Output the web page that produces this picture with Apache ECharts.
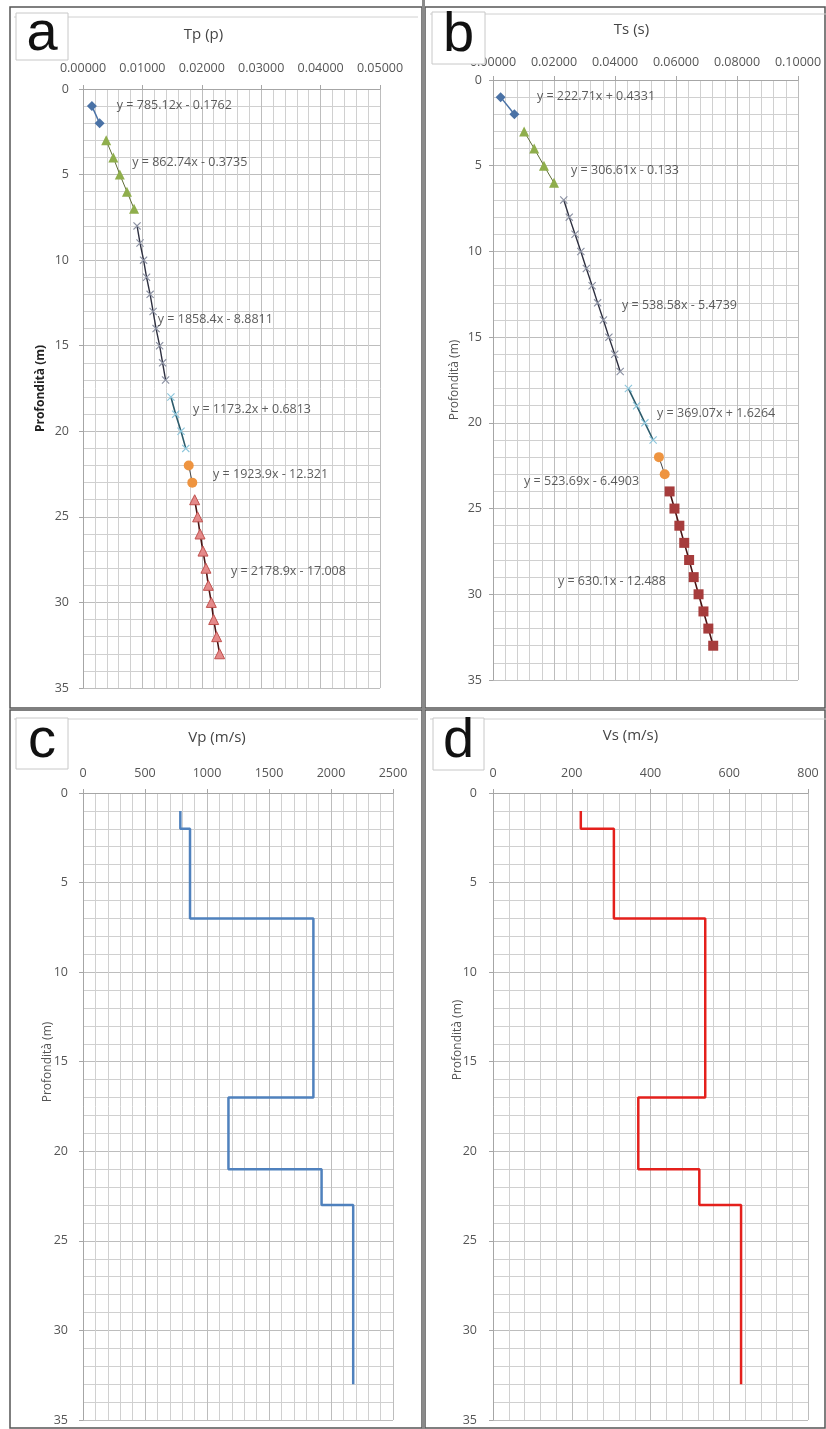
<!DOCTYPE html>
<html>
<head>
<meta charset="utf-8">
<script src="https://cdn.jsdelivr.net/npm/echarts@6/dist/echarts.min.js"></script>
<style>
  html, body { margin: 0; padding: 0; background: #fff; }
  #chart { width: 826px; height: 1429px; }
</style>
</head>
<body>
<div id="chart"></div>
<script>
// depths (m) of each fitted segment
const dep1 = [1, 2];
const dep2p = [3, 4, 5, 6, 7];
const dep2s = [3, 4, 5, 6];
const dep3p = [8, 9, 10, 11, 12, 13, 14, 15, 16, 17];
const dep3s = [7, 8, 9, 10, 11, 12, 13, 14, 15, 16, 17];
const dep4 = [18, 19, 20, 21];
const dep5 = [22, 23];
const dep6 = [24, 25, 26, 27, 28, 29, 30, 31, 32, 33];

// P-wave travel times (s)
const tp1 = [0.0015, 0.0028];
const tp2 = [0.0039, 0.0051, 0.0062, 0.0074, 0.0086];
const tp3 = [0.0091, 0.0096, 0.0102, 0.0107, 0.0113, 0.0118, 0.0123, 0.0129, 0.0134, 0.0139];
const tp4 = [0.0148, 0.0156, 0.0165, 0.0173];
const tp5 = [0.0178, 0.0184];
const tp6 = [0.0188, 0.0193, 0.0197, 0.0202, 0.0207, 0.0211, 0.0216, 0.0220, 0.0225, 0.0230];

// S-wave travel times (s)
const ts1 = [0.0025, 0.0070];
const ts2 = [0.0102, 0.0135, 0.0167, 0.0200];
const ts3 = [0.0232, 0.0250, 0.0269, 0.0288, 0.0306, 0.0325, 0.0343, 0.0362, 0.0380, 0.0399, 0.0417];
const ts4 = [0.0444, 0.0471, 0.0498, 0.0525];
const ts5 = [0.0544, 0.0563];
const ts6 = [0.0579, 0.0595, 0.0611, 0.0627, 0.0643, 0.0658, 0.0674, 0.0690, 0.0706, 0.0722];

// trendline equations
const eqTp = ['y = 785.12x - 0.1762', 'y = 862.74x - 0.3735', 'y = 1858.4x - 8.8811',
              'y = 1173.2x + 0.6813', 'y = 1923.9x - 12.321', 'y = 2178.9x - 17.008'];
const eqTs = ['y = 222.71x + 0.4331', 'y = 306.61x - 0.133', 'y = 538.58x - 5.4739',
              'y = 369.07x + 1.6264', 'y = 523.69x - 6.4903', 'y = 630.1x - 12.488'];
// where each equation sits (time, depth)
const eqTpAt = [[0.0057, 0.95], [0.0083, 4.3], [0.0126, 13.45], [0.0185, 18.75], [0.0219, 22.55], [0.0249, 28.2]];
const eqTsAt = [[0.0144, 0.95], [0.0256, 5.25], [0.0423, 13.15], [0.0538, 19.45], [0.0102, 23.4], [0.0213, 29.25]];

// layered velocity model
const layTop = [1, 2, 7, 17, 21, 23];
const layBot = [2, 7, 17, 21, 23, 33];
const vp = [785, 863, 1858, 1173, 1924, 2179];
const vs = [223, 307, 539, 369, 524, 630];

const FONT = '"Open Sans", "Liberation Sans", sans-serif';
const XMARK = 'path://M0,1L1,0L5,4L9,0L10,1L6,5L10,9L9,10L5,6L1,10L0,9L4,5Z';
const YNAME = 'Profondità (m)';

var chart = echarts.init(document.getElementById('chart'), null, { renderer: 'canvas' });

function pairs(xs, ys) {
    return xs.map((x, i) => [x, ys[i]]);
}

function steps(v) {
    var out = [];
    v.forEach((val, i) => {
        out.push([val, layTop[i]]);
        out.push([val, layBot[i]]);
    });
    return out;
}

// shift: how far the title sits left of the plot centre
function xAx(gi, max, interval, dec, name, gap, margin, shift) {
    return {
        type: 'value', gridIndex: gi, position: 'top', min: 0, max: max, interval: interval,
        name: name, nameLocation: 'middle', nameGap: gap,
        nameTextStyle: { fontFamily: FONT, fontSize: 15, color: '#444', padding: [0, shift * 2, 0, 0] },
        axisLine: { show: true, lineStyle: { color: '#a6a6a6' } },
        axisTick: { show: true, length: 4, lineStyle: { color: '#a6a6a6' } },
        minorTick: { show: false, splitNumber: 5 },
        axisLabel: {
            margin: margin, fontFamily: FONT, fontSize: 12.5, color: '#555',
            formatter: v => v.toFixed(dec)
        },
        splitLine: { show: true, lineStyle: { color: '#bdbdbd' } },
        minorSplitLine: { show: true, lineStyle: { color: '#d0d0d0' } }
    };
}

function yAx(gi, name, gap, bold, margin) {
    return {
        type: 'value', gridIndex: gi, inverse: true, min: 0, max: 35, interval: 5,
        name: name, nameLocation: 'middle', nameGap: gap, nameRotate: 90,
        nameTextStyle: { fontFamily: FONT, fontSize: 12, color: bold ? '#222' : '#555', fontWeight: bold ? 'bold' : 'normal' },
        axisLine: { show: true, lineStyle: { color: '#a6a6a6' } },
        axisTick: { show: true, length: 4, lineStyle: { color: '#a6a6a6' } },
        minorTick: { show: false, splitNumber: 5 },
        axisLabel: { margin: margin, fontFamily: FONT, fontSize: 12.5, color: '#555' },
        splitLine: { show: true, lineStyle: { color: '#bdbdbd' } },
        minorSplitLine: { show: true, lineStyle: { color: '#d0d0d0' } }
    };
}

function seg(gi, data, symbol, size, fill, border, lineColor, lineWidth) {
    return {
        type: 'line', xAxisIndex: gi, yAxisIndex: gi, data: data,
        symbol: symbol, symbolSize: size, showAllSymbol: true,
        itemStyle: { color: fill, borderColor: border, borderWidth: border ? 1 : 0 },
        lineStyle: { color: lineColor, width: lineWidth },
        z: 3
    };
}

function eqLabels(gi, texts, at) {
    return {
        type: 'scatter', xAxisIndex: gi, yAxisIndex: gi, symbolSize: 0, z: 5,
        data: at.map((p, i) => ({ value: p, name: texts[i] })),
        label: {
            show: true, position: [0, 0], align: 'left', verticalAlign: 'middle',
            formatter: p => p.name, fontFamily: FONT, fontSize: 12.5, color: '#333'
        }
    };
}

function seriesSet(gi, t, d) {
    return [
        seg(gi, pairs(t[0], d[0]), 'diamond', 10, '#4a72a6', null, '#4a72a6', 1.5),
        seg(gi, pairs(t[1], d[1]), 'triangle', 10, '#8fae4c', null, '#5d6b35', 1),
        seg(gi, pairs(t[2], d[2]), XMARK, 8, '#8a90a2', null, '#2e3040', 1.4),
        seg(gi, pairs(t[3], d[3]), XMARK, 8, '#8cc6dc', null, '#2d5c6c', 1.6),
        seg(gi, pairs(t[4], d[4]), 'circle', 10, '#ee9440', null, '#444', 1)
    ];
}

function letterBox(x, y, w, h, ch) {
    return [
        { type: 'rect', shape: { x: x, y: y, width: w, height: h },
          style: { fill: '#fff', stroke: '#c8c8c8', lineWidth: 1 }, z: 10 },
        { type: 'text', x: x + w / 2, y: y + h / 2 - 2, z: 11,
          style: { text: ch, fontFamily: '"Liberation Sans", Arial, sans-serif', fontSize: 56,
                   fill: '#111', align: 'center', verticalAlign: 'middle' } }
    ];
}

function sideName(x, y) {
    return { type: 'text', x: x, y: y, rotation: Math.PI / 2, z: 6,
             style: { text: YNAME, fontFamily: FONT, fontSize: 12, fill: '#555',
                      align: 'center', verticalAlign: 'middle' } };
}

var option = {
    animation: false,
    grid: [
        { left: 83, top: 89, width: 297, height: 599 },
        { left: 493, top: 80, width: 305, height: 600 },
        { left: 83, top: 793, width: 310, height: 627 },
        { left: 493, top: 793, width: 315, height: 627 }
    ],
    xAxis: [
        xAx(0, 0.05, 0.01, 5, 'Tp (p)', 47, 14, 28),
        xAx(1, 0.1, 0.02, 5, 'Ts (s)', 43, 11, 14),
        xAx(2, 2500, 500, 0, 'Vp (m/s)', 48, 13, 21),
        xAx(3, 800, 200, 0, 'Vs (m/s)', 50, 13, 20)
    ],
    yAxis: [
        yAx(0, YNAME, 36, true, 14),
        yAx(1, YNAME, 32, false, 11),
        yAx(2, '', 0, false, 15),
        yAx(3, '', 0, false, 16)
    ],
    series: [].concat(
        seriesSet(0, [tp1, tp2, tp3, tp4, tp5], [dep1, dep2p, dep3p, dep4, dep5]),
        [seg(0, pairs(tp6, dep6), 'triangle', 10, '#e48a8a', '#c0504d', '#4a1414', 1.6)],
        [eqLabels(0, eqTp, eqTpAt)],
        seriesSet(1, [ts1, ts2, ts3, ts4, ts5], [dep1, dep2s, dep3s, dep4, dep5]),
        [seg(1, pairs(ts6, dep6), 'rect', 10, '#a63c3c', null, '#4a1414', 1.6)],
        [eqLabels(1, eqTs, eqTsAt)],
        [{ type: 'line', xAxisIndex: 2, yAxisIndex: 2, data: steps(vp), symbol: 'none',
           lineStyle: { color: '#4f81bd', width: 2.5 } }],
        [{ type: 'line', xAxisIndex: 3, yAxisIndex: 3, data: steps(vs), symbol: 'none',
           lineStyle: { color: '#e4201c', width: 2.5 } }]
    ),
    graphic: [].concat(
        [
            // panel frames
            { type: 'rect', shape: { x: 10, y: 7, width: 412, height: 701 }, style: { fill: 'none', stroke: '#555', lineWidth: 1.5 }, z: 1 },
            { type: 'rect', shape: { x: 425, y: 7, width: 400, height: 701 }, style: { fill: 'none', stroke: '#555', lineWidth: 1.5 }, z: 1 },
            { type: 'rect', shape: { x: 10, y: 710, width: 412, height: 718 }, style: { fill: 'none', stroke: '#555', lineWidth: 1.5 }, z: 1 },
            { type: 'rect', shape: { x: 425, y: 710, width: 400, height: 718 }, style: { fill: 'none', stroke: '#555', lineWidth: 1.5 }, z: 1 },
            { type: 'line', shape: { x1: 423.5, y1: 0, x2: 423.5, y2: 1429 }, style: { stroke: '#8a8a8a', lineWidth: 3 }, z: 1 },
            { type: 'line', shape: { x1: 14, y1: 17, x2: 418, y2: 17 }, style: { stroke: '#d0d0d0', lineWidth: 1 }, z: 1 },
            { type: 'line', shape: { x1: 430, y1: 14, x2: 826, y2: 14 }, style: { stroke: '#d0d0d0', lineWidth: 1 }, z: 1 },
            { type: 'line', shape: { x1: 14, y1: 719, x2: 418, y2: 719 }, style: { stroke: '#d0d0d0', lineWidth: 1 }, z: 1 },
            { type: 'line', shape: { x1: 430, y1: 719, x2: 826, y2: 719 }, style: { stroke: '#d0d0d0', lineWidth: 1 }, z: 1 },
            sideName(48, 1062),
            sideName(458, 1040)
        ],
        letterBox(16, 13, 52, 47, 'a'),
        letterBox(432, 12, 53, 52, 'b'),
        letterBox(16, 718, 52, 51, 'c'),
        letterBox(433, 718, 51, 52, 'd')
    )
};

chart.setOption(option);
</script>
</body>
</html>
